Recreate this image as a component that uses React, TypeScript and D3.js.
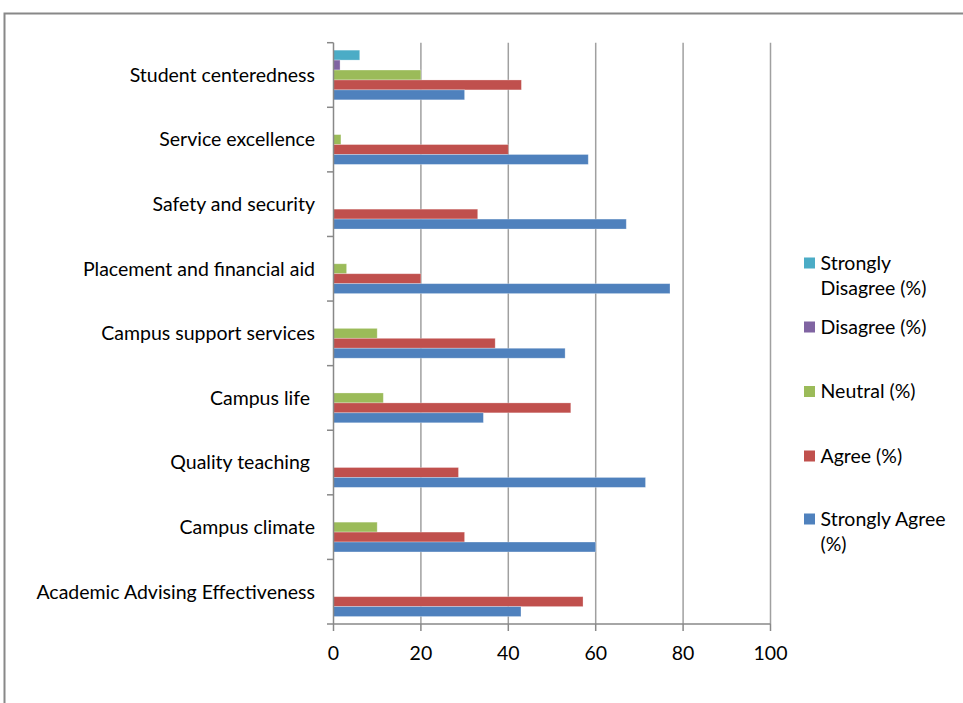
import React from "react";
import * as d3 from "d3";

const categories = [
  "Student centeredness",
  "Service excellence",
  "Safety and security",
  "Placement and financial aid",
  "Campus support services",
  "Campus life ",
  "Quality teaching ",
  "Campus climate",
  "Academic Advising Effectiveness",
];
const seriesNames = ["Strongly Disagree (%)", "Disagree (%)", "Neutral (%)", "Agree (%)", "Strongly Agree (%)"];
const legendLines = [["Strongly", "Disagree (%)"], ["Disagree (%)"], ["Neutral (%)"], ["Agree (%)"], ["Strongly Agree", "(%)"]];
const stronglyDisagree = [6, 0, 0, 0, 0, 0, 0, 0, 0];
const disagree = [1.5, 0, 0, 0, 0, 0, 0, 0, 0];
const neutral = [20, 1.7, 0, 3, 10, 11.4, 0, 10, 0];
const agree = [43, 40, 33, 20, 37, 54.3, 28.6, 30, 57.1];
const stronglyAgree = [30, 58.3, 67, 77, 53, 34.3, 71.4, 60, 42.9];
const xTicks = [0, 20, 40, 60, 80, 100];
const colors = ["#4bacc6", "#8064a2", "#9bbb59", "#c0504d", "#4f81bd"];

const seriesValues = [stronglyDisagree, disagree, neutral, agree, stronglyAgree];

const FONT = "Lato, 'Open Sans', sans-serif";

export default function App() {
  const x = d3.scaleLinear().domain([0, 100]).range([333.5, 770.5]);
  const y = d3.scaleBand<string>().domain(categories).range([42.7, 624]).padding(0);
  const ySub = d3
    .scaleBand<number>()
    .domain(d3.range(seriesNames.length))
    .range([0, y.bandwidth()])
    .paddingInner(0)
    .paddingOuter(0.75);

  const bottom = 624;
  const top = 42.7;
  const legendY = [263, 327, 391.5, 456, 519];

  return (
    <svg
      width={963}
      height={703}
      style={{ position: "absolute", left: 0, top: 0, background: "#fff" }}
      fontFamily={FONT}
    >
      <path d="M4.5,710 V13.5 H975" fill="none" stroke="#888" strokeWidth={2} />
      {/* gridlines */}
      {xTicks.slice(1).map((t) => (
        <line key={"g" + t} x1={x(t)} x2={x(t)} y1={top} y2={bottom} stroke="#a0a0a0" strokeWidth={1.5} />
      ))}
      {/* bars */}
      {categories.map((c, ci) =>
        seriesValues.map((vals, si) =>
          vals[ci] > 0 ? (
            <rect
              key={c + si}
              x={x(0)}
              y={(y(c) as number) + (ySub(si) as number)}
              width={x(vals[ci]) - x(0)}
              height={ySub.bandwidth()}
              fill={colors[si]}
              stroke="#ffffff"
              strokeOpacity={0.35}
              strokeWidth={0.8}
            />
          ) : null
        )
      )}
      {/* axes */}
      <line x1={x(0)} x2={x(0)} y1={top} y2={bottom} stroke="#888" strokeWidth={1.5} />
      <line x1={327} x2={x(100)} y1={bottom} y2={bottom} stroke="#888" strokeWidth={1.5} />
      {categories.map((c) => (
        <line key={"yt" + c} x1={327} x2={x(0)} y1={y(c)} y2={y(c)} stroke="#888" strokeWidth={1.5} />
      ))}
      {xTicks.map((t) => (
        <g key={"xt" + t}>
          <line x1={x(t)} x2={x(t)} y1={bottom} y2={bottom + 7} stroke="#888" strokeWidth={1.5} />
          <text x={x(t)} y={bottom + 36} textAnchor="middle" fontSize={19.5} fill="#000">
            {t}
          </text>
        </g>
      ))}
      {categories.map((c) => (
        <text
          key={"cl" + c}
          x={315}
          y={(y(c) as number) + y.bandwidth() / 2}
          dy="0.35em"
          textAnchor="end"
          fontSize={19.5}
          fill="#000"
          style={{ whiteSpace: "pre" }}
        >
          {c}
        </text>
      ))}
      {/* legend */}
      {seriesNames.map((s, i) => (
        <g key={"lg" + s}>
          <rect x={804} y={legendY[i] - 5.5} width={11} height={11} fill={colors[i]} />
          <text x={820.5} y={legendY[i]} fontSize={19.5} fill="#000">
            {legendLines[i].map((ln, li) => (
              <tspan key={li} x={820.5} dy={li === 0 ? "0.35em" : 25}>
                {ln}
              </tspan>
            ))}
          </text>
        </g>
      ))}
    </svg>
  );
}
